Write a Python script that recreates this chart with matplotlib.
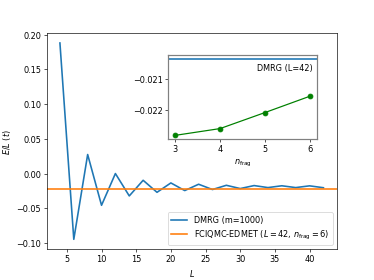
# E/L vs L for DMRG, with inset comparing FCIQMC-EDMET fragment sizes
import matplotlib
matplotlib.use('Agg')
import matplotlib.pyplot as plt

# DMRG (m=1000) energies per site
L_vals = [4, 6, 8, 10, 12, 14, 16, 18, 20, 22, 24, 26, 28, 30, 32, 34, 36, 38, 40, 42]
E_dmrg = [0.188, -0.0947, 0.0274, -0.0457, 0.0000, -0.0322, -0.0097, -0.0270,
          -0.0135, -0.0245, -0.0154, -0.0230, -0.0169, -0.0216, -0.0173, -0.0202,
          -0.0176, -0.0202, -0.0177, -0.0204]

# FCIQMC-EDMET (L=42) vs fragment size
n_frag = [3, 4, 5, 6]
E_edmet = [-0.02283, -0.02261, -0.02209, -0.02156]
E_dmrg_42 = -0.02036

plt.rcParams['lines.linewidth'] = 2.0

fig = plt.figure(figsize=(6.4, 4.8), dpi=374 / 6.4)
ax = fig.add_subplot(111)

ax.plot(L_vals, E_dmrg, label="DMRG (m=1000)")
ax.axhline(E_edmet[-1], color='C1',
           label=r"FCIQMC-EDMET ($L=42$, $n_{\rm frag}=6$)")
ax.set_xlabel(r"$L$")
ax.set_ylabel(r"$E/L$ $(t)$")
ax.legend(loc='lower right')

# inset
axins = fig.add_axes([0.45, 0.502, 0.397, 0.299])
axins.axhline(E_dmrg_42, color='C0')
axins.plot(n_frag, E_edmet, 'go-', lw=1.5, ms=6)
axins.text(0.97, 0.9, "DMRG (L=42)", transform=axins.transAxes,
           ha='right', va='top')
axins.set_xlabel(r"$n_{\rm frag}$")
axins.set_xticks(n_frag)
for s in axins.spines.values():
    s.set_color('0.5')
    s.set_linewidth(1.5)

fig.savefig("out.png", dpi=374 / 6.4)
